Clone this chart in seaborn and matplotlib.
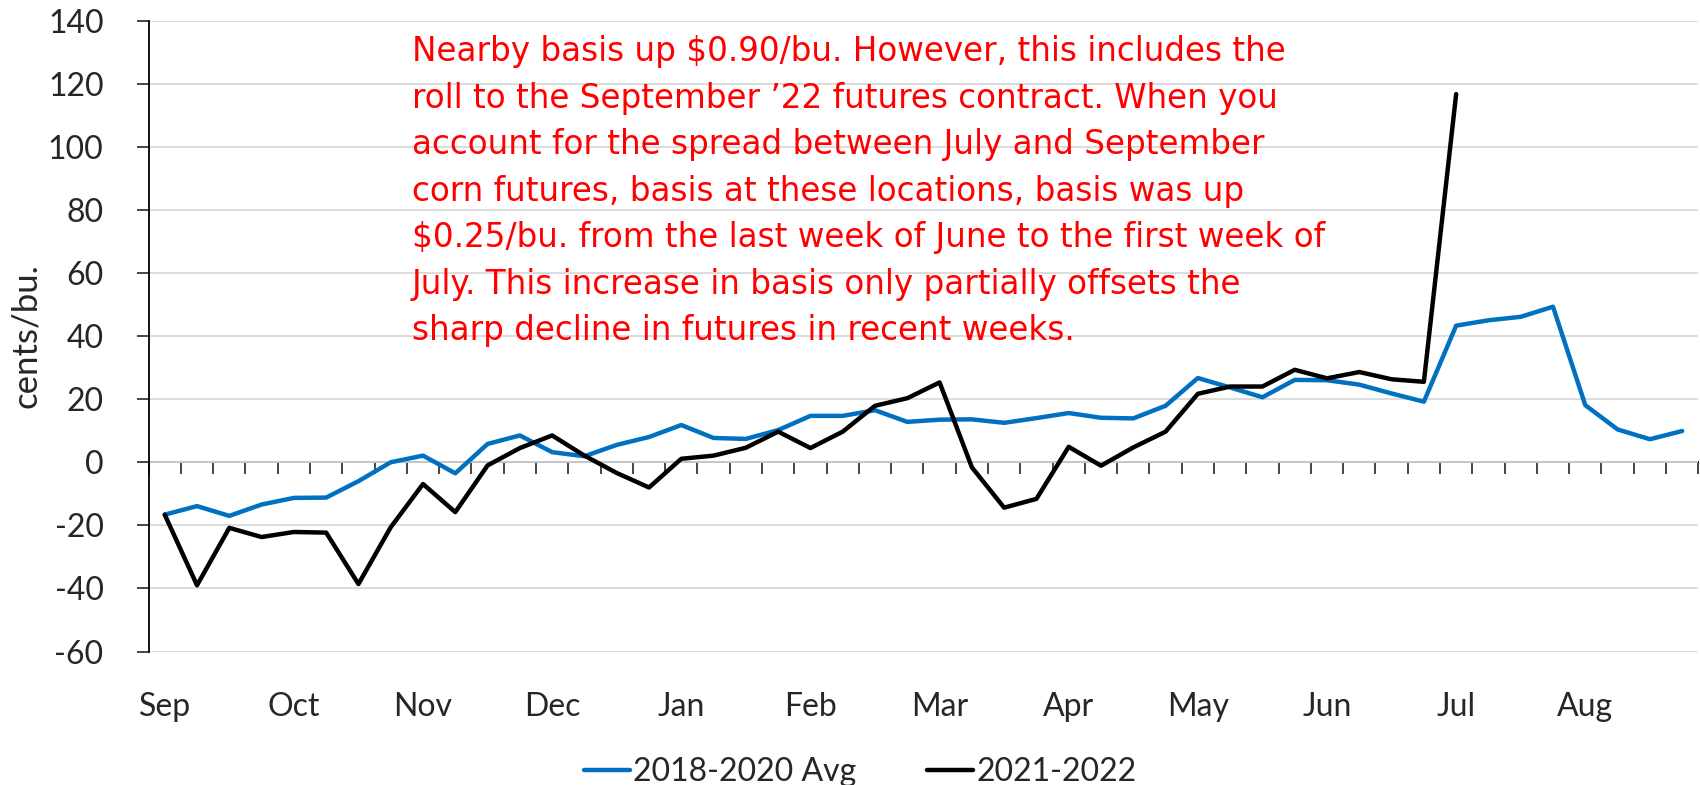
import numpy as np
import pandas as pd
import matplotlib.pyplot as plt
import seaborn as sns

# weekly nearby basis, cents/bu., marketing year Sep-Aug
months = ["Sep", "Oct", "Nov", "Dec", "Jan", "Feb", "Mar", "Apr", "May", "Jun", "Jul", "Aug"]
avg_2018_2020 = [-16.6, -13.9, -17.0, -13.4, -11.3, -11.2, -6.0, 0.0, 2.1, -3.5, 5.8, 8.5,
                 3.2, 1.9, 5.5, 8.0, 11.8, 7.7, 7.4, 10.2, 14.7, 14.7, 16.5, 12.8,
                 13.5, 13.6, 12.5, 14.0, 15.6, 14.1, 13.9, 17.9, 26.7, 23.7, 20.6, 26.1,
                 26.0, 24.6, 21.8, 19.2, 43.3, 45.0, 46.1, 49.3, 18.1, 10.4, 7.3, 9.9]
yr_2021_2022 = [-16.6, -39.0, -20.8, -23.7, -22.1, -22.3, -38.6, -20.6, -6.9, -15.8, -1.0, 4.5,
                8.5, 2.1, -3.4, -8.0, 1.1, 2.1, 4.6, 9.7, 4.5, 9.7, 17.9, 20.3,
                25.3, -1.6, -14.4, -11.6, 4.9, -1.1, 4.7, 9.7, 21.7, 24.0, 24.0, 29.3,
                26.6, 28.6, 26.3, 25.5, 116.7]
series_names = ["2018-2020 Avg", "2021-2022"]
note_lines = [
    "Nearby basis up $0.90/bu. However, this includes the",
    "roll to the September \u201922 futures contract. When you",
    "account for the spread between July and September",
    "corn futures, basis at these locations, basis was up",
    "$0.25/bu. from the last week of June to the first week of",
    "July. This increase in basis only partially offsets the",
    "sharp decline in futures in recent weeks.",
]

n_weeks = len(avg_2018_2020)
df = pd.concat([
    pd.DataFrame({"week": np.arange(len(avg_2018_2020)), "basis": avg_2018_2020, "series": series_names[0]}),
    pd.DataFrame({"week": np.arange(len(yr_2021_2022)), "basis": yr_2021_2022, "series": series_names[1]}),
])

sns.set_style("white")
plt.rcParams["font.family"] = ["Lato", "DejaVu Sans"]
plt.rcParams["axes.unicode_minus"] = False

fig = plt.figure(figsize=(17, 7.85), dpi=100)
ax = fig.add_axes([0.0874, 0.170, 0.9116, 0.8038])

sns.lineplot(data=df, x="week", y="basis", hue="series",
             palette={series_names[0]: "#0070C0", series_names[1]: "black"},
             linewidth=3.2, ax=ax, legend=False)

ax.set_xlim(-0.5, n_weeks - 0.5)
ax.set_ylim(-60, 140)
ax.set_yticks(np.arange(-60, 141, 20))
ax.yaxis.grid(True, color="#D9D9D9", linewidth=1.3)
ax.set_axisbelow(True)
for s in ["top", "right", "bottom"]:
    ax.spines[s].set_visible(False)
ax.spines["left"].set_color("black")
ax.spines["left"].set_linewidth(1.3)
ax.tick_params(axis="y", direction="out", length=8.4, width=1.2, labelsize=23, pad=24, left=True)

# month labels at the bottom, every 4th week
ax.set_xticks(np.arange(0, n_weeks, 4))
ax.set_xticklabels(months)
ax.tick_params(axis="x", length=0, labelsize=23, pad=29)
ax.set_xlabel("")
ax.set_ylabel("cents/bu.", fontsize=25)
ax.yaxis.set_label_coords(-0.069, 0.5)

# horizontal axis crossing at zero with tick marks between weeks
zero_axis = ax.secondary_xaxis(60 / 200)
zero_axis.set_xticks(np.arange(-0.5, n_weeks, 1))
zero_axis.set_xticklabels([])
zero_axis.tick_params(direction="out", length=8.4, width=1.2)
zero_axis.spines["bottom"].set_linewidth(1.3)
zero_axis.spines["bottom"].set_color("black")

fig.text(0.2424, 0.955, "\n".join(note_lines), color="red", fontsize=23.5,
         family=["DejaVu Sans"], va="top", ha="left",
         linespacing=1.52, parse_math=False)

handles = [plt.Line2D([], [], color="#0070C0", linewidth=3.2),
           plt.Line2D([], [], color="black", linewidth=3.2)]
fig.legend(handles, series_names, loc="center", bbox_to_anchor=(0.506, 0.016),
           ncol=2, frameon=False, fontsize=23, handlelength=1.45,
           handletextpad=0.1, columnspacing=2.2, borderpad=0)

fig.savefig("out.png", dpi=100)
